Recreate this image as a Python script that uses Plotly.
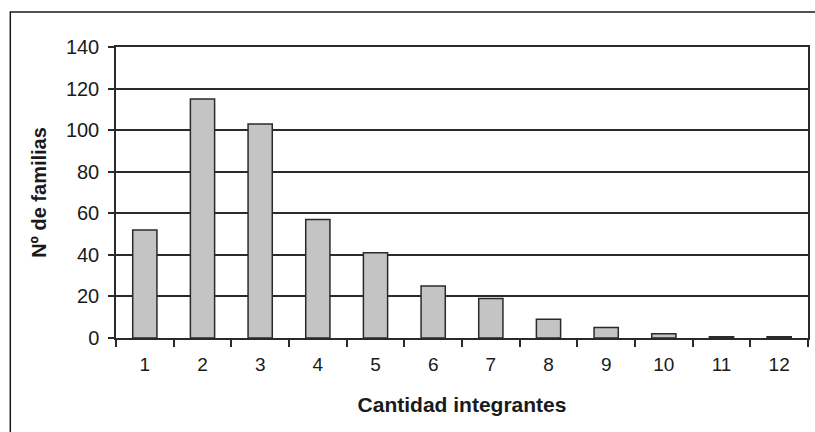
import plotly.graph_objects as go

categories = ["1", "2", "3", "4", "5", "6", "7", "8", "9", "10", "11", "12"]
familias = [52, 115, 103, 57, 41, 25, 19, 9, 5, 2, 0.6, 0.6]
y_ticks = [0, 20, 40, 60, 80, 100, 120, 140]

x_title = "Cantidad integrantes"
y_title = "Nº de familias"

W, H = 815, 432
ml, mr, mt, mb = 116, 5, 47, 94
pw, ph = W - ml - mr, H - mt - mb

fig = go.Figure()
fig.add_trace(go.Bar(
    x=categories, y=familias,
    marker=dict(color="#c4c4c4", line=dict(color="#2a2a2a", width=1.5)),
    width=0.42,
))

font_family = "Liberation Sans, Arial, sans-serif"
fig.update_layout(
    width=W, height=H,
    margin=dict(l=ml, r=mr, t=mt, b=mb, pad=0),
    paper_bgcolor="white", plot_bgcolor="white",
    showlegend=False,
    font=dict(family=font_family, color="#1a1a1a", size=19),
    xaxis=dict(
        type="category",
        tickson="boundaries",
        ticks="outside", ticklen=7, tickwidth=1.5, tickcolor="#2a2a2a",
        showline=True, linecolor="#2a2a2a", linewidth=1.5, mirror=True,
        showgrid=False,
        tickfont=dict(size=19),
        ticklabelstandoff=8,
        title=dict(text="<b>" + x_title + "</b>", font=dict(size=21), standoff=24),
    ),
    yaxis=dict(
        range=[0, 140],
        tickvals=y_ticks,
        ticks="outside", ticklen=6, tickwidth=1.5, tickcolor="#2a2a2a",
        showline=True, linecolor="#2a2a2a", linewidth=1.5, mirror=True,
        showgrid=True, gridcolor="#2a2a2a", gridwidth=1.5,
        zeroline=False,
        tickfont=dict(size=20),
        ticklabelstandoff=5,
        title=dict(text="<b>" + y_title + "</b>", font=dict(size=20), standoff=14),
    ),
)

# Outer chart border (Excel-style chart area frame)
fig.add_shape(
    type="rect", xref="paper", yref="paper",
    x0=(10 - ml) / pw, x1=(830 - ml) / pw,
    y0=1 - (450 - mt) / ph, y1=1 + (mt - 12) / ph,
    line=dict(color="#1a1a1a", width=1.5), fillcolor="rgba(0,0,0,0)",
    layer="below",
)

fig.write_html(
    "out.html",
    config={"displayModeBar": False},
    post_script="document.body.style.margin='0px';document.body.style.overflow='hidden';",
)
